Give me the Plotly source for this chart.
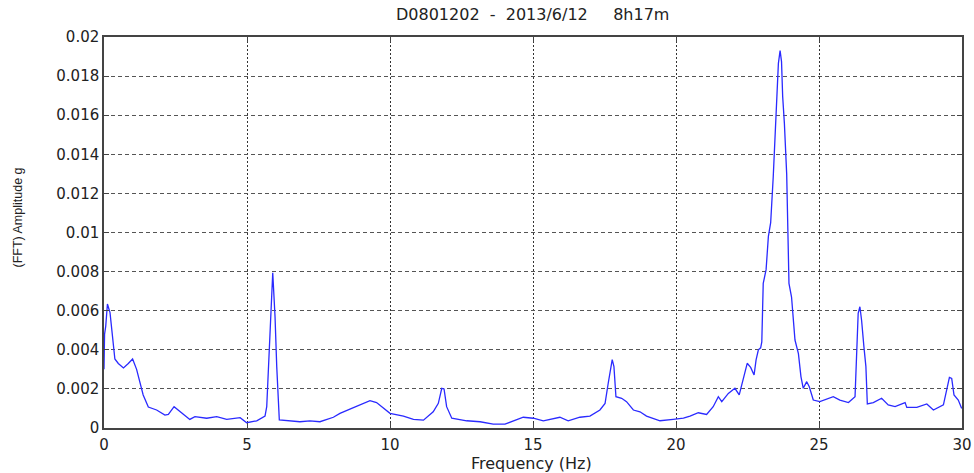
import plotly.graph_objects as go

freq = [0.0, 0.02, 0.06, 0.12, 0.21, 0.33, 0.38, 0.5, 0.68, 0.85, 1.0, 1.14, 1.37, 1.55, 1.84, 2.13, 2.25, 2.45,
        2.66, 3.0, 3.18, 3.59, 3.94, 4.29, 4.76, 4.99, 5.34, 5.63, 5.69, 5.78, 5.86, 5.9, 5.98, 6.04, 6.13,
        6.4, 6.85, 7.2, 7.55, 8.02, 8.25, 8.66, 8.95, 9.3, 9.53, 9.77, 10.0, 10.47, 10.82, 11.17, 11.51, 11.69,
        11.81, 11.89, 11.98, 12.16, 12.68, 13.15, 13.61, 14.02, 14.66, 15.01, 15.36, 15.94, 16.23, 16.64,
        16.99, 17.34, 17.52, 17.63, 17.72, 17.77, 17.83, 17.9, 18.1, 18.27, 18.51, 18.74, 18.97, 19.44,
        19.9, 20.26, 20.49, 20.78, 21.07, 21.3, 21.48, 21.6, 21.83, 22.06, 22.21, 22.35, 22.49, 22.61, 22.73,
        22.8, 22.88, 22.96, 23.0, 23.05, 23.15, 23.23, 23.31, 23.4, 23.46, 23.54, 23.58, 23.64, 23.69, 23.73,
        23.79, 23.87, 23.89, 23.95, 24.04, 24.16, 24.28, 24.37, 24.45, 24.57, 24.66, 24.8, 25.03, 25.5,
        25.73, 26.03, 26.26, 26.32, 26.37, 26.43, 26.49, 26.57, 26.64, 26.69, 26.9, 27.19, 27.42, 27.66,
        28.01, 28.07, 28.42, 28.77, 29.0, 29.35, 29.47, 29.56, 29.64, 29.72, 29.87, 29.99]

amp = [0.0030, 0.0048, 0.0052, 0.00634, 0.0059, 0.00416, 0.00353, 0.0033, 0.00307, 0.0033, 0.00353, 0.0030,
       0.00169, 0.00107, 0.00092, 0.00066, 0.0007, 0.00109, 0.00083, 0.00044, 0.00058, 0.0005, 0.00058,
       0.00044, 0.00053, 0.00027, 0.00037, 0.00061, 0.00109, 0.00416, 0.0067, 0.00794, 0.0057, 0.00314,
       0.00041, 0.00038, 0.00032, 0.00036, 0.00032, 0.00055, 0.00075, 0.0010, 0.00118, 0.0014, 0.0013,
       0.0010, 0.00075, 0.00061, 0.00044, 0.0004, 0.00083, 0.00126, 0.00203, 0.0020, 0.00109, 0.0005,
       0.00037, 0.00032, 0.0002, 0.0002, 0.00055, 0.0005, 0.00037, 0.00055, 0.00037, 0.00055, 0.00061,
       0.00092, 0.00126, 0.00229, 0.00314, 0.0035, 0.00314, 0.0016, 0.00152, 0.00135, 0.00092, 0.00083,
       0.00061, 0.00037, 0.00044, 0.0005, 0.00061, 0.00078, 0.00069, 0.00109, 0.0016, 0.00135, 0.00177,
       0.00203, 0.00169, 0.00246, 0.00331, 0.0031, 0.00271, 0.00348, 0.0040, 0.0041, 0.0044, 0.0074,
       0.0081, 0.0098, 0.0105, 0.01285, 0.0149, 0.01695, 0.01865, 0.0193, 0.01874, 0.01695, 0.01558,
       0.0130, 0.01166, 0.0074, 0.0067, 0.0045, 0.0038, 0.00262, 0.00203, 0.00237, 0.00211, 0.00143,
       0.00135, 0.0016, 0.00143, 0.0013, 0.0016, 0.00416, 0.00587, 0.0062, 0.0055, 0.00416, 0.00314,
       0.00123, 0.0013, 0.00152, 0.00118, 0.00109, 0.0013, 0.00105, 0.00105, 0.00123, 0.00092, 0.00118,
       0.00194, 0.00259, 0.00254, 0.00169, 0.00143, 0.0010]

x_ticks = [0, 5, 10, 15, 20, 25, 30]
x_tick_labels = ["0", "5", "10", "15", "20", "25", "30"]
y_ticks = [0, 0.002, 0.004, 0.006, 0.008, 0.01, 0.012, 0.014, 0.016, 0.018, 0.02]
y_tick_labels = ["0", "0.002", "0.004", "0.006", "0.008", "0.01", "0.012", "0.014", "0.016", "0.018", "0.02"]

title_text = "D0801202&nbsp;&nbsp;-&nbsp;&nbsp;2013/6/12&nbsp;&nbsp;&nbsp;&nbsp;&nbsp;8h17m"
x_title = "Frequency (Hz)"
y_title = "(FFT) Amplitude g"

W, H = 974, 473
L, R, T, B = 104, 12, 37, 45
pw, ph = W - L - R, H - T - B

fig = go.Figure()
fig.add_trace(go.Scatter(x=freq, y=amp, mode="lines",
                         line=dict(color="#2a2aff", width=1.3), showlegend=False, hoverinfo="skip"))

wide_font = "DejaVu Sans, Verdana, sans-serif"
narrow_font = "Liberation Sans, Arial, sans-serif"
fig.update_layout(
    width=W, height=H,
    margin=dict(l=L, r=R, t=T, b=B, autoexpand=False),
    paper_bgcolor="white", plot_bgcolor="white",
    font=dict(family=wide_font, size=15, color="#222"),
    annotations=[
        dict(text=title_text, xref="paper", yref="paper", x=(532 - L) / pw, y=(H - B - 15) / ph,
             xanchor="center", yanchor="middle", showarrow=False,
             font=dict(family=wide_font, size=16, color="#222")),
        dict(text=x_title, xref="paper", yref="paper", x=(531 - L) / pw, y=(H - B - 463) / ph,
             xanchor="center", yanchor="middle", showarrow=False,
             font=dict(family=wide_font, size=16, color="#222")),
        dict(text=y_title, xref="paper", yref="paper", x=(17.5 - L) / pw, y=(H - B - 218) / ph,
             xanchor="center", yanchor="middle", showarrow=False, textangle=-90,
             font=dict(family=narrow_font, size=12.5, color="#222")),
    ],
)
fig.update_xaxes(
    range=[0, 30], tickvals=x_ticks, ticktext=x_tick_labels, automargin=False,
    showgrid=True, gridcolor="#333", griddash="2px,2px", gridwidth=1,
    showline=True, linecolor="#444", linewidth=1.5, mirror="ticks",
    ticks="inside", ticklen=5, tickcolor="#444", zeroline=False,
    tickfont=dict(size=15), ticklabelstandoff=2,
)
fig.update_yaxes(
    range=[0, 0.02], tickvals=y_ticks, ticktext=y_tick_labels, automargin=False,
    showgrid=True, gridcolor="#555", griddash="4px,3px", gridwidth=1,
    showline=True, linecolor="#444", linewidth=1.5, mirror="ticks",
    ticks="inside", ticklen=5, tickcolor="#444", zeroline=False,
    tickfont=dict(size=15),
)

fig.write_html("out.html")
